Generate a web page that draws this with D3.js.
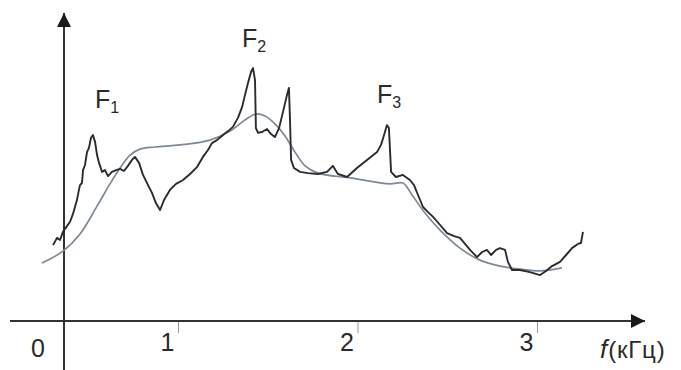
<!DOCTYPE html>
<html><head><meta charset="utf-8">
<script src="https://cdn.jsdelivr.net/npm/d3@7"></script>
<style>
html,body{margin:0;padding:0;background:#fff;}
svg{display:block;}
text{font-family:"Liberation Sans",Arial,sans-serif;fill:#2a2a2a;}
</style></head>
<body>
<svg id="c" width="681" height="370"></svg>
<script>
// Frequency (kHz) and amplitude (arbitrary units, 0..100)
const spectrumF = [0.304,0.326,0.343,0.359,0.382,0.398,0.415,0.426,0.437,0.448,0.454,0.465,0.471,0.482,0.493,0.504,0.515,0.526,0.538,0.549,0.560,0.577,0.593,0.610,0.632,0.655,0.677,0.699,0.721,0.744,0.760,0.783,0.805,0.833,0.855,0.877,0.900,0.922,0.955,0.989,1.028,1.067,1.106,1.139,1.167,1.189,1.217,1.251,1.279,1.306,1.334,1.357,1.373,1.390,1.407,1.418,1.429,1.434,1.446,1.468,1.496,1.518,1.540,1.563,1.585,1.607,1.618,1.624,1.630,1.646,1.680,1.724,1.780,1.830,1.863,1.891,1.942,1.997,2.053,2.109,2.131,2.148,2.164,2.175,2.187,2.214,2.253,2.292,2.315,2.337,2.365,2.393,2.421,2.460,2.499,2.538,2.571,2.599,2.627,2.666,2.694,2.721,2.744,2.772,2.794,2.822,2.838,2.861,2.905,2.961,3.017,3.050,3.084,3.128,3.162,3.195,3.228,3.245,3.256];
const spectrumA = [25.3,27.7,27.0,29.7,31.7,33.0,35.7,38.0,40.3,43.7,45.3,46.0,50.3,52.0,56.3,57.7,61.0,62.0,59.7,55.3,52.7,49.7,50.3,48.3,49.7,50.3,50.7,50.0,51.7,53.7,54.7,52.7,48.7,45.3,42.7,39.3,37.0,40.3,43.7,45.7,47.0,49.0,51.3,54.7,57.0,59.3,60.3,62.0,63.3,64.7,67.7,71.3,75.3,79.3,83.0,84.3,80.3,64.3,62.7,63.0,64.0,62.3,61.3,64.3,69.7,75.3,77.7,67.0,53.7,51.0,49.7,49.3,49.0,49.7,51.7,49.0,48.0,51.0,53.7,56.3,58.7,62.0,65.3,64.3,49.7,48.0,48.7,47.0,45.3,42.0,38.0,36.3,34.7,32.0,29.3,28.3,27.7,25.7,23.7,21.3,23.0,23.7,22.0,23.7,24.3,23.7,19.7,17.0,17.0,16.3,15.3,16.7,18.3,19.7,22.0,24.3,25.7,26.0,29.7];

const envelopeF = [0.242,0.359,0.454,0.549,0.621,0.677,0.733,0.788,0.872,1.011,1.178,1.290,1.373,1.435,1.485,1.540,1.596,1.652,1.708,1.780,1.958,2.181,2.253,2.304,2.376,2.460,2.571,2.682,2.794,2.905,3.017,3.139];
const envelopeA = [19.3,23.3,29.0,38.3,45.7,51.0,55.3,57.3,58.0,58.7,60.3,63.3,67.0,69.0,68.3,65.7,61.7,56.3,51.7,49.3,47.7,45.7,46.0,42.0,36.0,30.3,24.3,20.3,18.3,17.3,16.7,17.7];

const tickValues = [1,2,3];
const formantNames = ["F","F","F"];
const formantSubs = ["1","2","3"];
const formantF = [0.537,1.357,2.108];
const formantA = [71,91.3,72.7];
const originLabel = "0";
const axisTitleItalic = "f";
const axisTitleRest = "(кГц)";

const svg = d3.select("#c");
const x = d3.scaleLinear().domain([0,3]).range([-1.5,537]);
const y = d3.scaleLinear().domain([0,100]).range([321,21]);

const axisX = 64, axisY = y(0);

// arrow heads
const defs = svg.append("defs");
defs.append("marker").attr("id","arr").attr("viewBox","0 0 10 10")
  .attr("refX",10).attr("refY",5).attr("markerUnits","userSpaceOnUse")
  .attr("markerWidth",17).attr("markerHeight",14).attr("orient","auto")
  .append("path").attr("d","M0,0 L10,5 L0,10 Z").attr("fill","#1a1a1a");

// X axis ticks and labels via d3 axis
const gx = svg.append("g").attr("transform",`translate(0,${axisY})`)
  .call(d3.axisBottom(x).tickValues(tickValues).tickSize(12).tickFormat(d3.format("d")));
gx.select(".domain").remove();
gx.selectAll(".tick line").attr("stroke","#9a9a9a").attr("stroke-width",1);
gx.selectAll(".tick text").attr("font-size",25).attr("dx",-11).attr("y",12).attr("dy","0.71em")
  .attr("fill","#2a2a2a").attr("font-family","Liberation Sans, Arial, sans-serif");

// main axis lines
svg.append("line").attr("x1",10).attr("y1",axisY).attr("x2",645).attr("y2",axisY)
  .attr("stroke","#333").attr("stroke-width",2).attr("marker-end","url(#arr)");
svg.append("line").attr("x1",axisX).attr("y1",370).attr("x2",axisX).attr("y2",13)
  .attr("stroke","#333").attr("stroke-width",2).attr("marker-end","url(#arr)");

// origin label and axis title
svg.append("text").attr("x",38).attr("y",357).attr("text-anchor","middle").attr("font-size",25).text(originLabel);
const tt = svg.append("text").attr("x",600).attr("y",358).attr("font-size",24);
tt.append("tspan").attr("font-style","italic").attr("font-size",26).text(axisTitleItalic);
tt.append("tspan").attr("dx",1).attr("letter-spacing",0.8).text(axisTitleRest);

// curves
const lineGen = (F,A,curve) => d3.line().x((d,i)=>x(F[i])).y((d,i)=>y(A[i])).curve(curve)(F);
svg.append("path").attr("d",lineGen(envelopeF,envelopeA,d3.curveCatmullRom.alpha(0.5)))
  .attr("fill","none").attr("stroke","#7d8995").attr("stroke-width",1.7);
svg.append("path").attr("d",lineGen(spectrumF,spectrumA,d3.curveLinear))
  .attr("fill","none").attr("stroke","#2b2b2b").attr("stroke-width",1.9).attr("stroke-linejoin","round");

// formant labels
formantNames.forEach((n,i)=>{
  const t = svg.append("text").attr("x",x(formantF[i])).attr("y",y(formantA[i])).attr("font-size",25);
  t.append("tspan").text(n);
  t.append("tspan").attr("font-size",16).attr("dy",5).text(formantSubs[i]);
});
</script>
</body></html>
